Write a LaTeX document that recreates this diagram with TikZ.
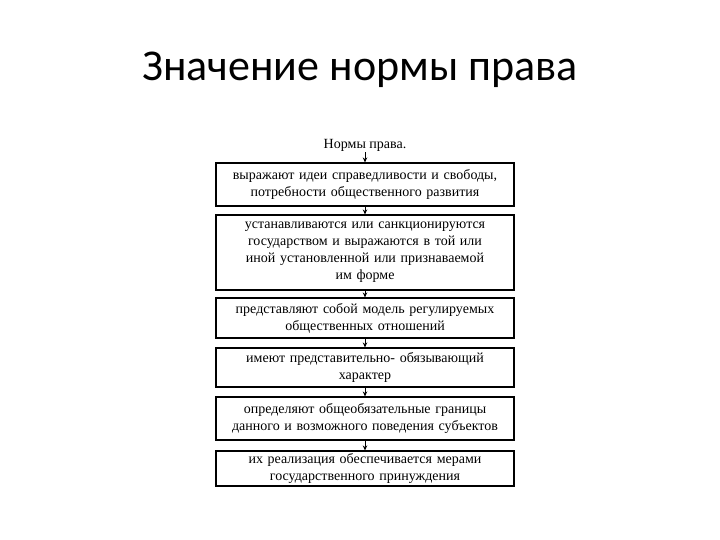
\documentclass[tikz,border=0pt]{standalone}
\usepackage{fontspec}
\setmainfont{Liberation Serif}
\newfontfamily\titlefont{Carlito}
\usetikzlibrary{arrows.meta}
\tikzset{
  stagebox/.style={draw=black, line width=1.1pt, minimum width=298pt, text width=292pt, align=center, inner sep=0pt, font=\fontsize{14}{17}\selectfont},
  flowarrow/.style={-{Stealth[length=5pt,width=4.5pt]}, line width=0.9pt}
}
\begin{document}
\begin{tikzpicture}[x=1pt,y=1pt]
\useasboundingbox (0,0) rectangle (720,540);
\node[font=\titlefont\fontsize{44}{50}\selectfont] (title) at (360,470) {Значение нормы права};
\node[font=\fontsize{14}{17}\selectfont, inner sep=1pt] (top) at (365,395) {Нормы права.};
\node[stagebox, minimum height=43pt] (b1) at (365,355.5) {выражают идеи справедливости и свободы,\\ потребности общественного развития};
\node[stagebox, minimum height=75pt] (b2) at (365,287.5) {устанавливаются или санкционируются\\ государством и выражаются в той или\\ иной установленной или признаваемой\\ им форме};
\node[stagebox, minimum height=40pt] (b3) at (365,222) {представляют собой модель регулируемых\\ общественных отношений};
\node[stagebox, minimum height=39pt] (b4) at (365,172.5) {имеют представительно- обязывающий\\ характер};
\node[stagebox, minimum height=43pt] (b5) at (365,121.5) {определяют общеобязательные границы\\ данного и возможного поведения субъектов};
\node[stagebox, minimum height=35pt] (b6) at (365,71.5) {их реализация обеспечивается мерами\\ государственного принуждения};
\draw[flowarrow] (top.south) -- (b1.north);
\draw[flowarrow] (b1.south) -- (b2.north);
\draw[flowarrow] (b2.south) -- (b3.north);
\draw[flowarrow] (b3.south) -- (b4.north);
\draw[flowarrow] (b4.south) -- (b5.north);
\draw[flowarrow] (b5.south) -- (b6.north);
\end{tikzpicture}
\end{document}
